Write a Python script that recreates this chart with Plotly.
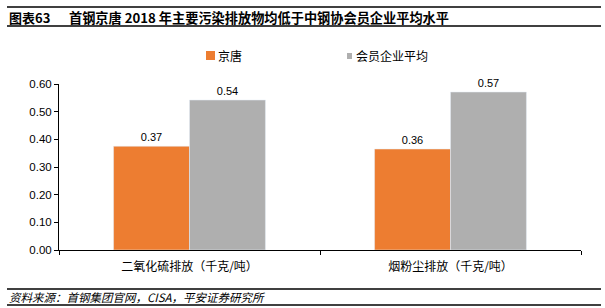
import plotly.graph_objects as go

categories = ["二氧化硫排放（千克/吨）", "烟粉尘排放（千克/吨）"]
series_names = ["京唐", "会员企业平均"]
jingtang = [0.375, 0.365]
jingtang_labels = ["0.37", "0.36"]
member_avg = [0.542, 0.571]
member_labels = ["0.54", "0.57"]
y_ticks = [0.0, 0.1, 0.2, 0.3, 0.4, 0.5, 0.6]

ORANGE = "#ED7D31"
GRAY = "#AFAFAF"
W, H = 605, 308
FONT = "Liberation Sans, Noto Sans CJK SC, sans-serif"
CJK = "Noto Sans CJK SC, sans-serif"

fig = go.Figure()
fig.add_trace(go.Bar(x=categories, y=jingtang, name=series_names[0], marker_color=ORANGE,
                     text=jingtang_labels, textposition="outside", cliponaxis=False,
                     textfont=dict(size=11, color="#000", family=FONT)))
fig.add_trace(go.Bar(x=categories, y=member_avg, name=series_names[1], marker_color=GRAY,
                     text=member_labels, textposition="outside", cliponaxis=False,
                     textfont=dict(size=11, color="#000", family=FONT)))

fig.update_layout(
    width=W, height=H, autosize=False,
    margin=dict(l=59, r=24, t=84, b=58),
    paper_bgcolor="white", plot_bgcolor="white",
    barmode="group", bargap=0.418, bargroupgap=0,
    showlegend=False,
    font=dict(family=FONT, size=11, color="#000"),
)
fig.update_yaxes(range=[0, 0.6], tickvals=y_ticks, tickformat=".2f",
                 showline=True, linecolor="#000", linewidth=1,
                 ticks="outside", ticklen=4, tickcolor="#000",
                 showgrid=False, zeroline=False,
                 tickfont=dict(size=11.5, family=FONT, color="#000"))
fig.update_xaxes(showline=True, linecolor="#000", linewidth=1,
                 ticks="outside", ticklen=4, tickcolor="#000", tickson="boundaries",
                 showgrid=False, tickfont=dict(size=12, family=CJK, color="#000"),
                 ticklabelstandoff=6)

def px_x(x):
    return (x - 59) / (W - 59 - 24)

def px_y(y):
    return (H - 58 - y) / (H - 84 - 58)

# header / footer rules
for y in [7, 26, 289, 305]:
    fig.add_shape(type="line", xref="paper", yref="paper",
                  x0=px_x(7), x1=px_x(601), y0=px_y(y), y1=px_y(y),
                  line=dict(color="#000", width=1.5))

fig.add_annotation(text="<b>图表63</b>", x=px_x(7), y=px_y(17), xref="paper", yref="paper",
                   xanchor="left", yanchor="middle", showarrow=False,
                   font=dict(size=13, family=CJK, color="#000"))
fig.add_annotation(text="<b>首钢京唐 2018 年主要污染排放物均低于中钢协会员企业平均水平</b>",
                   x=px_x(67), y=px_y(17), xref="paper", yref="paper",
                   xanchor="left", yanchor="middle", showarrow=False,
                   font=dict(size=13.2, family=CJK, color="#000"))
fig.add_annotation(text="<i>资料来源：首钢集团官网，CISA，平安证券研究所</i>",
                   x=px_x(7), y=px_y(297), xref="paper", yref="paper",
                   xanchor="left", yanchor="middle", showarrow=False,
                   font=dict(size=11.5, family=CJK, color="#000"))

# legend
fig.add_shape(type="rect", xref="paper", yref="paper",
              x0=px_x(206), x1=px_x(215), y0=px_y(60), y1=px_y(51),
              fillcolor=ORANGE, line=dict(width=0))
fig.add_annotation(text=series_names[0], x=px_x(216), y=px_y(55.5), xref="paper", yref="paper",
                   xanchor="left", yanchor="middle", showarrow=False,
                   font=dict(size=12, family=CJK, color="#000"))
fig.add_shape(type="rect", xref="paper", yref="paper",
              x0=px_x(347), x1=px_x(352), y0=px_y(59), y1=px_y(53),
              fillcolor=GRAY, line=dict(width=0))
fig.add_annotation(text=series_names[1], x=px_x(354), y=px_y(55.5), xref="paper", yref="paper",
                   xanchor="left", yanchor="middle", showarrow=False,
                   font=dict(size=12, family=CJK, color="#000"))

fig.write_html("out.html")
